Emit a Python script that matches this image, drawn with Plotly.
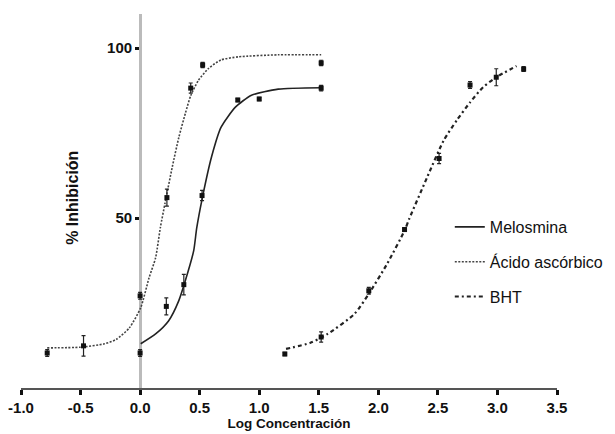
import plotly.graph_objects as go

# ---- measured points ----
asc_x = [-0.78, -0.475, 0.0, 0.225, 0.425, 0.525, 1.52]
asc_y = [10.3, 12.4, 27.1, 56.0, 88.2, 95.0, 95.6]
asc_err = [1.0, 3.0, 1.0, 2.5, 1.5, 0.8, 0.8]

mel_x = [0.0, 0.22, 0.367, 0.52, 0.82, 1.0, 1.52]
mel_y = [10.3, 24.0, 30.4, 56.6, 84.7, 85.0, 88.2]
mel_err = [1.0, 2.5, 3.0, 1.5, 0.5, 0.5, 0.8]

bht_x = [1.215, 1.52, 1.92, 2.22, 2.51, 2.77, 2.99, 3.22]
bht_y = [10.0, 15.0, 28.6, 46.6, 67.5, 89.1, 91.4, 93.8]
bht_err = [0.5, 1.5, 1.0, 0.5, 1.5, 1.0, 2.5, 0.7]

# ---- fitted curves ----
asc_cx = [-0.78, -0.5, -0.3, -0.2, -0.09, 0.005, 0.075, 0.13, 0.17, 0.21, 0.27, 0.325,
          0.38, 0.425, 0.49, 0.575, 0.68, 0.825, 1.16, 1.52]
asc_cy = [11.8, 12.0, 13.0, 14.3, 17.7, 23.6, 32.4, 38.3, 47.2, 54.5, 65.0, 73.7,
          80.8, 86.0, 90.5, 94.0, 96.5, 97.4, 98.0, 98.0]

mel_cx = [0.005, 0.13, 0.24, 0.325, 0.38, 0.45, 0.475, 0.52, 0.6, 0.68, 0.8, 0.935, 1.16, 1.52]
mel_cy = [13.0, 15.9, 19.8, 25.7, 31.6, 40.4, 47.0, 55.5, 68.0, 76.7, 82.6, 86.1, 87.9, 88.3]

bht_cx = [1.225, 1.43, 1.575, 1.8, 1.92, 2.075, 2.22, 2.26, 2.41, 2.55, 2.66, 2.77, 2.88, 2.99, 3.16]
bht_cy = [11.5, 13.3, 15.9, 21.8, 27.7, 36.6, 46.3, 49.8, 62.0, 72.9, 78.8, 84.0, 88.5, 91.4, 94.7]

x_ticks = [-1.0, -0.5, 0.0, 0.5, 1.0, 1.5, 2.0, 2.5, 3.0, 3.5]
y_ticks = [50, 100]

FONT = "Liberation Sans, Arial, sans-serif"

fig = go.Figure()

series = [
    ("Melosmina", mel_cx, mel_cy, mel_x, mel_y, mel_err, dict(color="#222", width=1.6, dash="solid")),
    ("Ácido ascórbico", asc_cx, asc_cy, asc_x, asc_y, asc_err, dict(color="#444", width=1.6, dash="2px,1.5px")),
    ("BHT", bht_cx, bht_cy, bht_x, bht_y, bht_err, dict(color="#222", width=2.2, dash="4px,3px,2px,3px")),
]

for i, (name, cx, cy, px, py, pe, line) in enumerate(series):
    fig.add_trace(go.Scatter(
        x=cx, y=cy, mode="lines", name=name, line=dict(shape="spline", smoothing=0.6, **line),
        legendgroup=f"g{i}", showlegend=True, hoverinfo="skip"))
    fig.add_trace(go.Scatter(
        x=px, y=py, mode="markers", name=name,
        marker=dict(symbol="square", size=5, color="#111"),
        error_y=dict(type="data", array=pe, visible=True, color="#222", thickness=1.2, width=2),
        legendgroup=f"g{i}", showlegend=False))

fig.add_annotation(text="% Inhibición", textangle=-90, xref="paper", yref="paper",
                   x=0.0948, y=0.508, xanchor="center", yanchor="middle", showarrow=False,
                   font=dict(family=FONT, size=16, weight="bold", color="#111"))

fig.update_layout(
    width=607, height=426,
    margin=dict(l=13, r=56, t=6, b=46),
    paper_bgcolor="white", plot_bgcolor="white",
    font=dict(family=FONT, color="#111", size=13),
    showlegend=True,
    legend=dict(x=0.8, y=0.476, xanchor="left", yanchor="top",
                font=dict(family=FONT, size=16, color="#111"),
                bgcolor="rgba(0,0,0,0)", tracegroupgap=11, itemwidth=30),
    xaxis=dict(range=[-1.0, 3.5], tickvals=x_ticks, ticktext=[f"{v:.1f}" for v in x_ticks],
               showgrid=False, zeroline=False, showline=True, linecolor="#555", linewidth=2,
               ticks="outside", ticklen=5, tickwidth=3, tickcolor="#111",
               tickfont=dict(family=FONT, size=15, weight="bold"),
               title=dict(text="Log Concentración", font=dict(family=FONT, size=13.5, weight="bold"), standoff=0),
               automargin=False),
    yaxis=dict(range=[0, 110], tickvals=y_ticks, ticktext=[str(v) for v in y_ticks],
               anchor="free", position=1.0 / 4.5, layer="below traces",
               showgrid=False, zeroline=False, showline=True, linecolor="#bbbbbb", linewidth=3,
               ticks="outside", ticklen=4, tickwidth=3, tickcolor="#111",
               tickfont=dict(family=FONT, size=15, weight="bold"),
               automargin=False),
)

fig.write_html("out.html")
